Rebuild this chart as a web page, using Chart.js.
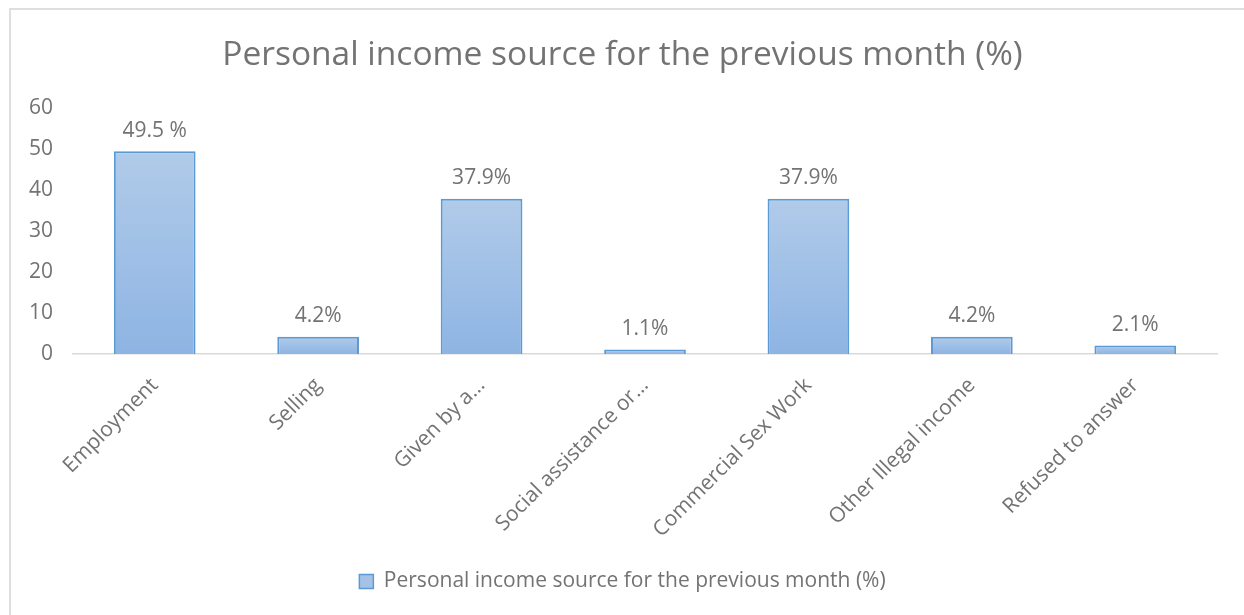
<!DOCTYPE html>
<html>
<head>
<meta charset="utf-8">
<script src="https://cdn.jsdelivr.net/npm/chart.js@4/dist/chart.umd.min.js"></script>
<style>
  html, body { margin: 0; padding: 0; background: #fff; }
  #wrap { position: relative; width: 1244px; height: 615px; overflow: hidden; }
  #frame { position: absolute; left: 9px; top: 8px; width: 1250px; height: 620px; border: 2px solid #dedede; box-sizing: border-box; }
  canvas { display: block; position: absolute; left: 0; top: 0; }
</style>
</head>
<body>
<div id="wrap"><div id="frame"></div><canvas id="chart" width="1244" height="615"></canvas></div>
<script>
const categories = ['Employment', 'Selling', 'Given by a…', 'Social assistance or…', 'Commercial Sex Work', 'Other Illegal income', 'Refused to answer'];
const percentValues = [49.5, 4.2, 37.9, 1.1, 37.9, 4.2, 2.1];
const valueLabels = ['49.5 %', '4.2%', '37.9%', '1.1%', '37.9%', '4.2%', '2.1%'];
const yTicks = [0, 10, 20, 30, 40, 50, 60];
const seriesName = 'Personal income source for the previous month (%)';

const fontFamily = '"Open Sans", Carlito, Calibri, sans-serif';
const textColor = '#737373';

// draws the value above each bar
const barValueLabels = {
  id: 'barValueLabels',
  afterDatasetsDraw(chart) {
    const { ctx } = chart;
    const meta = chart.getDatasetMeta(0);
    ctx.save();
    ctx.font = '21px ' + fontFamily;
    ctx.fillStyle = textColor;
    ctx.textAlign = 'center';
    ctx.textBaseline = 'bottom';
    meta.data.forEach((bar, i) => {
      ctx.fillText(valueLabels[i], bar.x, bar.y - 10);
    });
    ctx.restore();
  }
};

function barFill(context) {
  const chart = context.chart;
  const y = chart.scales.y;
  if (!y || context.parsed === undefined) return '#a5c2e6';
  const top = y.getPixelForValue(context.parsed.y);
  const bottom = y.getPixelForValue(0);
  if (!isFinite(top) || !isFinite(bottom) || top === bottom) return '#a5c2e6';
  const g = chart.ctx.createLinearGradient(0, top, 0, bottom);
  g.addColorStop(0, '#b1cbe9');
  g.addColorStop(1, '#8eb4e3');
  return g;
}

new Chart(document.getElementById('chart'), {
  type: 'bar',
  data: {
    labels: categories,
    datasets: [{
      label: seriesName,
      data: percentValues,
      backgroundColor: barFill,
      borderColor: '#5b9bd5',
      borderWidth: 2,
      categoryPercentage: 1,
      barPercentage: 0.5
    }]
  },
  options: {
    responsive: false,
    animation: false,
    layout: { padding: { left: 28, right: 27, top: 20, bottom: 13 } },
    plugins: {
      title: {
        display: true,
        text: 'Personal income source for the previous month (%)',
        color: textColor,
        font: { family: fontFamily, size: 33.5, weight: 'normal' },
        padding: { top: 15, bottom: 33 }
      },
      legend: {
        position: 'bottom',
        labels: {
          color: textColor,
          font: { family: fontFamily, size: 21 },
          boxWidth: 14,
          boxHeight: 14,
          padding: 16,
          generateLabels(chart) {
            return [{
              text: seriesName,
              fillStyle: '#a5c2e6',
              strokeStyle: '#5b9bd5',
              lineWidth: 1.5,
              fontColor: textColor,
              datasetIndex: 0
            }];
          }
        }
      },
      tooltip: { enabled: false }
    },
    scales: {
      x: {
        grid: { display: false, drawTicks: false },
        border: { display: true, color: '#d9d9d9', width: 1.5 },
        afterFit(scale) {
          scale.paddingLeft = 0;
          scale.height = 201;
        },
        ticks: {
          color: textColor,
          font: { family: fontFamily, size: 21 },
          minRotation: 45,
          maxRotation: 45,
          autoSkip: false,
          padding: 19,
          labelOffset: 0
        }
      },
      y: {
        min: 0,
        max: 60,
        grid: { display: false, drawTicks: false },
        border: { display: false },
        afterBuildTicks(axis) {
          axis.ticks = yTicks.map(v => ({ value: v }));
        },
        afterFit(scale) {
          scale.width = 45;
        },
        ticks: {
          color: textColor,
          font: { family: fontFamily, size: 21 },
          padding: 20
        }
      }
    }
  },
  plugins: [barValueLabels]
});
</script>
</body>
</html>
